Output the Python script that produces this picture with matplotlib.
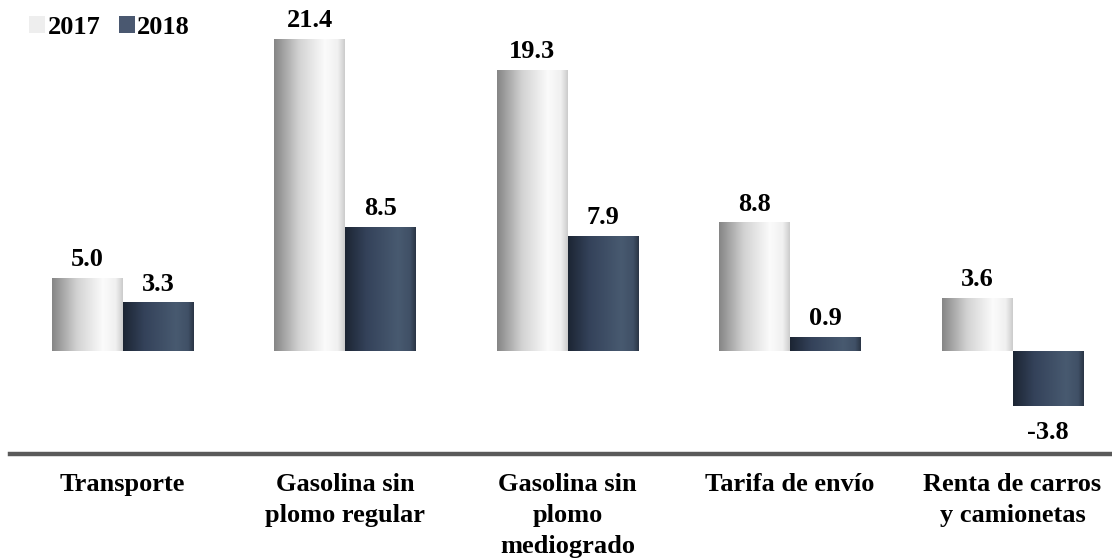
import numpy as np
import matplotlib
matplotlib.use("Agg")
import matplotlib.pyplot as plt
from matplotlib.colors import LinearSegmentedColormap
from matplotlib.patches import Patch

categories = ["Transporte", "Gasolina sin\nplomo regular", "Gasolina sin\nplomo\nmediogrado",
              "Tarifa de envío", "Renta de carros\ny camionetas"]
series_names = ["2017", "2018"]
values_2017 = [5.0, 21.4, 19.3, 8.8, 3.6]
values_2018 = [3.3, 8.5, 7.9, 0.9, -3.8]

plt.rcParams['font.family'] = ['Liberation Serif', 'DejaVu Serif']

fig = plt.figure(figsize=(11.12, 5.58), dpi=100)
ax = fig.add_axes([0, 0, 1, 1])
ax.set_xlim(-0.5506, 4.447)
ax.set_ylim(-14.26, 24.09)
ax.axis('off')

x = np.arange(len(categories))
w = 0.319

cmap17 = LinearSegmentedColormap.from_list('g17', [(0, '#858585'), (0.35, '#d2d2d2'), (0.72, '#fbfbfb'), (0.9, '#f0f0f0'), (1, '#cccccc')])
cmap18 = LinearSegmentedColormap.from_list('g18', [(0, '#1c2533'), (0.3, '#34425a'), (0.75, '#485a70'), (0.92, '#405066'), (1, '#2a3545')])
grad = np.linspace(0, 1, 256).reshape(1, -1)

b1 = ax.bar(x - w / 2, values_2017, w, color='#e6e6e6', linewidth=0)
b2 = ax.bar(x + w / 2, values_2018, w, color='#3b4a5f', linewidth=0)

for bars, cm in ((b1, cmap17), (b2, cmap18)):
    for p in bars:
        x0, y0 = p.get_x(), p.get_y()
        x1, y1 = x0 + p.get_width(), y0 + p.get_height()
        im = ax.imshow(grad, extent=[x0, x1, min(y0, y1), max(y0, y1)], aspect='auto',
                       cmap=cm, origin='lower', zorder=p.get_zorder() + 0.1)
        im.set_clip_path(p)

for bars in (b1, b2):
    vals = bars.datavalues
    ax.bar_label(bars, labels=[f"{v:.1f}" if v >= 0 else "" for v in vals], padding=5,
                 fontsize=19, fontweight='bold', color='black')
    ax.bar_label(bars, labels=[f"{v:.1f}" if v < 0 else "" for v in vals], padding=11,
                 fontsize=19, fontweight='bold', color='black')

ax.axhline(-7.11, xmin=0.009, xmax=1, color='#5a5a5a', lw=3.2)

for xi, lab in zip(x, categories):
    ax.text(xi, -8.4, lab, ha='center', va='top', ma='center', fontsize=19,
            fontweight='bold', linespacing=1.45)

handles = [Patch(facecolor='#eeeeee', edgecolor='none'), Patch(facecolor='#4a5870', edgecolor='none')]
ax.legend(handles, series_names, loc='upper left', bbox_to_anchor=(0.012, 1.0), ncol=2,
          frameon=False, prop={'size': 19, 'weight': 'bold'}, handlelength=0.6,
          handleheight=0.6, handletextpad=0.1, columnspacing=0.7, borderaxespad=0.2)

fig.savefig('out.png', dpi=100)
